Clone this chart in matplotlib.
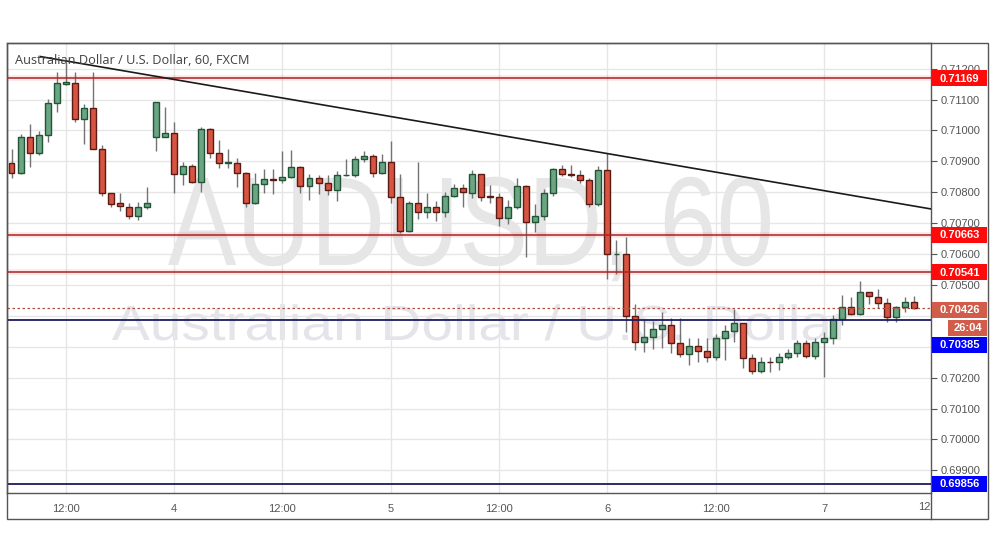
import matplotlib
matplotlib.use('Agg')
import matplotlib.pyplot as plt
from matplotlib.patches import Rectangle, PathPatch
from matplotlib.lines import Line2D
from matplotlib.transforms import IdentityTransform, Affine2D
from matplotlib.textpath import TextPath
from matplotlib.font_manager import FontProperties
from matplotlib.ticker import FormatStrFormatter, MultipleLocator
import numpy as np

plt.rcParams['font.family'] = ['Liberation Sans', 'DejaVu Sans']

# hourly candles, hour 0 = day "4" 00:00
hours = list(range(-18, 83))
opens = [0.70894, 0.70863, 0.70978, 0.70926, 0.70984, 0.71088, 0.71150, 0.71152, 0.71036, 0.71072,
         0.70939, 0.70796, 0.70764, 0.70753, 0.70724, 0.70753, 0.70980, 0.70980, 0.70991, 0.70858,
         0.70886, 0.70832, 0.71004, 0.70926, 0.70895, 0.70895, 0.70863, 0.70764, 0.70826, 0.70843,
         0.70840, 0.70848, 0.70883, 0.70820, 0.70845, 0.70831, 0.70806, 0.70855, 0.70857, 0.70906,
         0.70917, 0.70861, 0.70897, 0.70784, 0.70675, 0.70764, 0.70735, 0.70753, 0.70735, 0.70789,
         0.70815, 0.70798, 0.70858, 0.70787, 0.70784, 0.70718, 0.70751, 0.70821, 0.70705, 0.70724,
         0.70797, 0.70874, 0.70858, 0.70856, 0.70840, 0.70761, 0.70871, 0.70599, 0.70601, 0.70398,
         0.70316, 0.70330, 0.70356, 0.70370, 0.70313, 0.70276, 0.70303, 0.70286, 0.70268, 0.70327,
         0.70351, 0.70376, 0.70263, 0.70221, 0.70252, 0.70250, 0.70266, 0.70279, 0.70311, 0.70271,
         0.70314, 0.70327, 0.70389, 0.70429, 0.70405, 0.70476, 0.70462, 0.70441, 0.70395, 0.70429,
         0.70446]
highs = [0.70940, 0.70988, 0.71021, 0.70998, 0.71102, 0.71188, 0.71217, 0.71188, 0.71085, 0.71188,
         0.70953, 0.70798, 0.70796, 0.70764, 0.70769, 0.70818, 0.71091, 0.71075, 0.71026, 0.70899,
         0.70890, 0.71010, 0.71008, 0.70969, 0.70940, 0.70910, 0.70865, 0.70863, 0.70874, 0.70874,
         0.70933, 0.70937, 0.70885, 0.70858, 0.70856, 0.70856, 0.70869, 0.70906, 0.70917, 0.70934,
         0.70923, 0.70923, 0.70966, 0.70859, 0.70772, 0.70897, 0.70797, 0.70772, 0.70802, 0.70826,
         0.70826, 0.70872, 0.70860, 0.70823, 0.70799, 0.70775, 0.70845, 0.70823, 0.70761, 0.70809,
         0.70879, 0.70888, 0.70888, 0.70872, 0.70847, 0.70885, 0.70926, 0.70645, 0.70654, 0.70437,
         0.70387, 0.70384, 0.70411, 0.70392, 0.70392, 0.70327, 0.70327, 0.70327, 0.70341, 0.70370,
         0.70421, 0.70376, 0.70276, 0.70268, 0.70268, 0.70279, 0.70292, 0.70322, 0.70322, 0.70327,
         0.70349, 0.70403, 0.70467, 0.70460, 0.70513, 0.70478, 0.70486, 0.70457, 0.70433, 0.70460,
         0.70464]
lows = [0.70845, 0.70858, 0.70883, 0.70920, 0.70963, 0.71060, 0.71146, 0.71028, 0.70955, 0.70939,
        0.70789, 0.70753, 0.70740, 0.70712, 0.70710, 0.70745, 0.70934, 0.70978, 0.70798, 0.70823,
        0.70830, 0.70802, 0.70911, 0.70877, 0.70877, 0.70818, 0.70753, 0.70762, 0.70796, 0.70793,
        0.70831, 0.70845, 0.70798, 0.70775, 0.70794, 0.70791, 0.70773, 0.70852, 0.70848, 0.70899,
        0.70848, 0.70858, 0.70764, 0.70667, 0.70670, 0.70713, 0.70716, 0.70708, 0.70721, 0.70785,
        0.70753, 0.70780, 0.70773, 0.70764, 0.70692, 0.70696, 0.70745, 0.70589, 0.70670, 0.70710,
        0.70788, 0.70853, 0.70850, 0.70829, 0.70753, 0.70755, 0.70518, 0.70535, 0.70349, 0.70289,
        0.70284, 0.70292, 0.70295, 0.70281, 0.70266, 0.70241, 0.70252, 0.70252, 0.70257, 0.70257,
        0.70316, 0.70230, 0.70211, 0.70216, 0.70219, 0.70225, 0.70259, 0.70268, 0.70265, 0.70260,
        0.70201, 0.70308, 0.70370, 0.70403, 0.70403, 0.70438, 0.70424, 0.70381, 0.70379, 0.70412,
        0.70422]
closes = [0.70863, 0.70978, 0.70926, 0.70984, 0.71088, 0.71152, 0.71156, 0.71036, 0.71072, 0.70939,
          0.70796, 0.70763, 0.70754, 0.70724, 0.70753, 0.70764, 0.71091, 0.70991, 0.70858, 0.70886,
          0.70832, 0.71004, 0.70926, 0.70894, 0.70897, 0.70863, 0.70764, 0.70826, 0.70842, 0.70840,
          0.70848, 0.70883, 0.70820, 0.70845, 0.70831, 0.70806, 0.70856, 0.70857, 0.70906, 0.70917,
          0.70861, 0.70897, 0.70784, 0.70675, 0.70764, 0.70735, 0.70753, 0.70735, 0.70789, 0.70815,
          0.70800, 0.70858, 0.70786, 0.70784, 0.70718, 0.70751, 0.70821, 0.70705, 0.70724, 0.70797,
          0.70874, 0.70858, 0.70855, 0.70840, 0.70761, 0.70872, 0.70599, 0.70601, 0.70398, 0.70316,
          0.70330, 0.70356, 0.70370, 0.70313, 0.70276, 0.70303, 0.70286, 0.70268, 0.70327, 0.70351,
          0.70376, 0.70263, 0.70221, 0.70252, 0.70250, 0.70266, 0.70279, 0.70311, 0.70271, 0.70314,
          0.70327, 0.70389, 0.70429, 0.70405, 0.70476, 0.70464, 0.70441, 0.70395, 0.70429, 0.70446,
          0.70426]

# horizontal levels
red_levels = [0.71169, 0.70663, 0.70541]
blue_levels = [0.70385, 0.69856]
last_price = 0.70426
countdown = "26:04"

# trend line anchors (hour, price)
trend_x = [-14.8, 48.0]
trend_y = [0.71239, 0.70925]

xtick_pos = [-12, 0, 12, 24, 36, 48, 60, 72]
xtick_lab = ['12:00', '4', '12:00', '5', '12:00', '6', '12:00', '7']

W, H = 995, 556
fig = plt.figure(figsize=(W / 100, H / 100), dpi=100)
fig.patch.set_facecolor('white')
ax = fig.add_axes([7 / W, 1 - 493 / H, (931 - 7) / W, (493 - 43) / H])
ax.set_xlim(-18.5, 83.83)
ax.set_ylim(0.698267, 0.712829)
idt = IdentityTransform()


# watermark text fitted into a pixel box (x0..x1, cap top..baseline, from top of image)
def watermark(s, x0, x1, cap_top, baseline, color):
    prop = FontProperties(family='Liberation Sans')
    tp = TextPath((0, 0), s, size=100, prop=prop)
    bb = tp.get_extents()
    cap = TextPath((0, 0), 'H', size=100, prop=prop).get_extents().y1
    sx = (x1 - x0) / bb.width
    sy = (baseline - cap_top) / cap
    tr = Affine2D().translate(-bb.x0, 0).scale(sx, sy).translate(x0, H - baseline)
    p = PathPatch(tp, facecolor=color, edgecolor='none', transform=tr + idt, zorder=0)
    ax.add_artist(p)


watermark('AUDUSD, 60', 168, 770, 178, 265, '#e6e6e6')
watermark('Australian Dollar / U.S. Dollar', 112, 850, 306, 340, '#e4e4ea')

# grid
ax.yaxis.set_major_locator(MultipleLocator(0.001))
ax.yaxis.set_major_formatter(FormatStrFormatter('%.5f'))
ax.set_xticks(xtick_pos)
ax.set_xticklabels(xtick_lab)
ax.grid(True, color='#e6e6e6', lw=1, zorder=1)
ax.set_axisbelow(True)

# candles
x = np.array(hours)
o, h, l, c = map(np.array, (opens, highs, lows, closes))
up = c >= o
lo = np.minimum(o, c)
bh = np.abs(c - o)
ax.vlines(x, l, h, color='#737375', lw=1, zorder=3)
ax.bar(x[up], bh[up], bottom=lo[up], width=0.66, color='#6ba583', edgecolor='#225437', lw=1, zorder=4)
ax.bar(x[~up], bh[~up], bottom=lo[~up], width=0.66, color='#d75442', edgecolor='#5b1a13', lw=1, zorder=4)

# levels
for p in red_levels:
    ax.axhline(p, color='#ff0000', alpha=0.1, lw=4, zorder=2)
    ax.axhline(p, color='#a82222', lw=1.1, zorder=5)
for p in blue_levels:
    ax.axhline(p, color='#1b1b60', lw=1.3, zorder=5)
ax.axhline(last_price, color='#b0503c', lw=0.9, ls=(0, (2, 2)), zorder=5)

# trend line, extended to the right edge
slope = (trend_y[1] - trend_y[0]) / (trend_x[1] - trend_x[0])
x_end = ax.get_xlim()[1]
ax.plot([trend_x[0], x_end], [trend_y[0], trend_y[0] + slope * (x_end - trend_x[0])],
        color='#1a1a1a', lw=1.2, zorder=6)

# title
ax.text(0.0087, 0.962, 'Australian Dollar / U.S. Dollar, 60, FXCM', transform=ax.transAxes,
        ha='left', va='center', fontsize=9.2, color='#404040', family=['Open Sans', 'DejaVu Sans'],
        fontweight='medium', zorder=7)

# axes styling
for s in ax.spines.values():
    s.set_color('#555555')
    s.set_linewidth(1)
ax.yaxis.tick_right()
ax.tick_params(axis='y', length=4, color='#555555', labelcolor='#555555', labelsize=8, pad=3)
ax.tick_params(axis='x', length=0, labelcolor='#555555', labelsize=8, pad=8)
ax.text(1.0, -0.031, '12', transform=ax.transAxes, ha='right', va='center', fontsize=8, color='#555555')

# tick labels that sit fully under the price tags
fig.canvas.draw()
for t in ax.get_yticklabels():
    txt = t.get_text()
    if txt in ('0.70300', '0.70400'):
        t.set_visible(False)

# outer frame and separators (pixel coords)
fig.add_artist(Rectangle((7, H - 519), 988 - 7, 519 - 43, fill=False, edgecolor='#555555', lw=1,
                         transform=idt))
fig.add_artist(Line2D([931, 931], [H - 519, H - 493], color='#555555', lw=1, transform=idt))


def tag(ycen, text, color, x0=932, x1=987, hgt=16):
    fig.add_artist(Rectangle((x0, ycen - hgt / 2), x1 - x0, hgt, facecolor=color, edgecolor='none',
                             transform=idt, zorder=10))
    fig.text((x0 + x1) / 2, ycen - 0.5, text, transform=idt, ha='center', va='center', color='white',
             fontsize=8, fontweight='bold', zorder=11)


def ypix(p):
    return ax.transData.transform((0, p))[1]


for p in red_levels:
    tag(ypix(p), f'{p:.5f}', '#ff0a0a')
tag(ypix(blue_levels[1]), f'{blue_levels[1]:.5f}', '#0000ff')
yc = ypix(last_price) - 2
tag(yc, f'{last_price:.5f}', '#d25c4a')
tag(yc - 18, countdown, '#d25c4a', x0=948)
tag(yc - 35, f'{blue_levels[0]:.5f}', '#0000ff')

fig.savefig('out.png', dpi=100, facecolor='white')
